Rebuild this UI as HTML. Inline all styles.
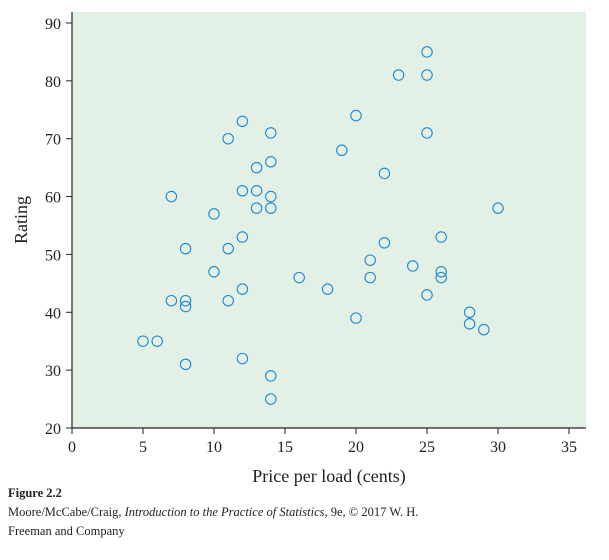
<!DOCTYPE html>
<html><head><meta charset="utf-8"><style>
body{margin:0;background:#fff;width:609px;height:560px;overflow:hidden;font-family:"Liberation Serif",serif;}
#cap{position:absolute;left:8px;top:484px;font-size:12.5px;line-height:19px;color:#222;}
</style></head><body>
<svg id="chart" width="609" height="560" style="position:absolute;left:0;top:0" font-family="Liberation Serif, serif"></svg>
<div id="cap"><b>Figure 2.2</b><br>Moore/McCabe/Craig, <i>Introduction to the Practice of Statistics</i>, 9e, © 2017 W. H.<br>Freeman and Company</div>
<script>
const xs=[5,6,7,7,8,8,8,8,10,10,11,11,11,12,12,12,12,12,13,13,13,14,14,14,14,14,14,16,18,19,20,20,21,21,22,22,23,24,25,25,25,25,26,26,26,28,28,29,30];
const ys=[35,35,60,42,51,42,41,31,57,47,70,51,42,73,61,53,44,32,65,61,58,71,66,60,58,29,25,46,44,68,74,39,49,46,64,52,81,48,85,81,71,43,53,47,46,40,38,37,58];
const xTicks=[0,5,10,15,20,25,30,35];
const yTicks=[20,30,40,50,60,70,80,90];
const svg=document.getElementById('chart');const NS='http://www.w3.org/2000/svg';
const X=v=>72+v*14.2, Y=v=>428-(v-20)*5.786;
function mk(t,a,p){const e=document.createElementNS(NS,t);for(const k in a)e.setAttribute(k,a[k]);(p||svg).appendChild(e);return e;}
const bg=mk('rect',{x:72,y:12,width:514,height:416,fill:'#e2f0e6'});


const ax=mk('path',{d:'M72,12V428H586',fill:'none',stroke:'#222','stroke-width':1.2});


xTicks.forEach(v=>{mk('line',{x1:X(v),x2:X(v),y1:428,y2:434,stroke:'#222'});
const t=mk('text',{x:X(v),y:452,'text-anchor':'middle','font-size':16,fill:'#222'});t.textContent=v;

});
yTicks.forEach(v=>{mk('line',{x1:66,x2:72,y1:Y(v),y2:Y(v),stroke:'#222'});
const t=mk('text',{x:61,y:Y(v)+6,'text-anchor':'end','font-size':16,fill:'#222'});t.textContent=v;

});
xs.forEach((x,i)=>{const c=mk('circle',{cx:X(x),cy:Y(ys[i]),r:5.2,fill:'none',stroke:'#1e88d2','stroke-width':1.1});

});
const xl=mk('text',{x:329,y:482,'text-anchor':'middle','font-size':18,fill:'#222'});xl.textContent='Price per load (cents)';


const yl=mk('text',{x:0,y:0,transform:'translate(27,220) rotate(-90)','text-anchor':'middle','font-size':18,fill:'#222'});yl.textContent='Rating';


</script>
</body></html>
